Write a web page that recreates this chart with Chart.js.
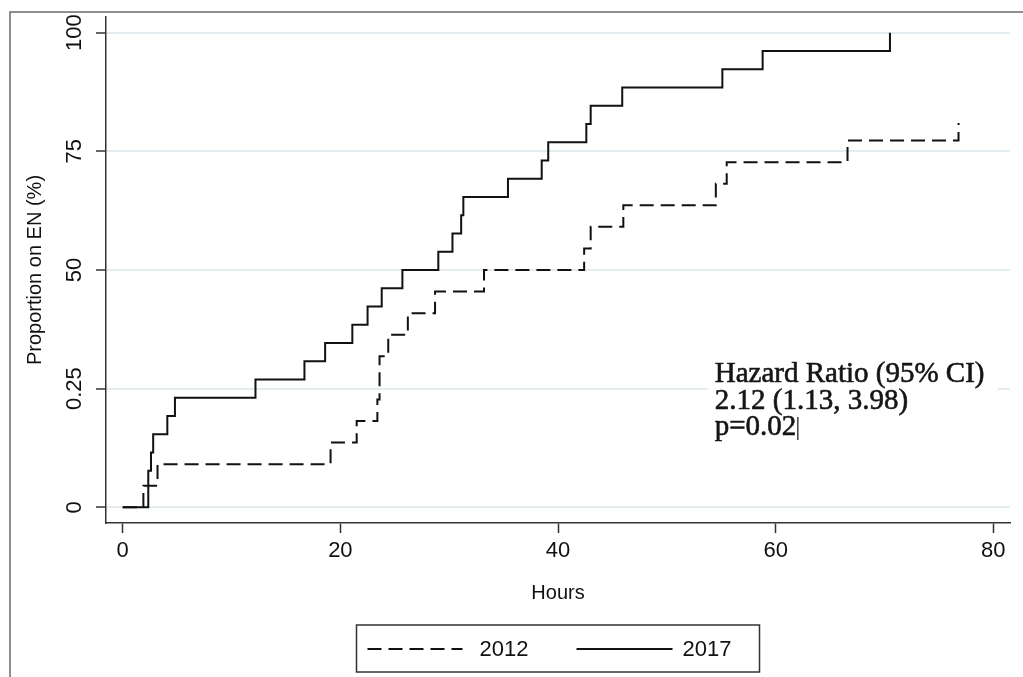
<!DOCTYPE html>
<html>
<head>
<meta charset="utf-8">
<script src="https://cdn.jsdelivr.net/npm/chart.js@4.4.1/dist/chart.umd.min.js"></script>
<style>
  html, body { margin: 0; padding: 0; background: #ffffff; }
  #wrap { position: relative; width: 1023px; height: 677px; }
</style>
</head>
<body>
<div id="wrap"><canvas id="c" width="1023" height="677"></canvas></div>
<script>
// ---- Data ----
const seriesLabels = ['2012', '2017'];
const hours2012 = [0, 1.9, 3.2, 19.1, 21.5, 23.4, 23.6, 24.4, 26.2, 28.7, 33.2, 42.4, 43.0, 46.0, 54.5, 55.5, 66.6, 76.8];
const pct2012   = [0, 4.55, 9.09, 13.64, 18.18, 22.73, 31.82, 36.36, 40.91, 45.45, 50.0, 54.55, 59.09, 63.64, 68.18, 72.73, 77.27, 81.0];
const hours2017 = [0, 2.35, 2.6, 2.8, 4.1, 4.8, 12.2, 16.7, 18.6, 21.1, 22.5, 23.8, 25.7, 29.0, 30.3, 31.1, 31.3, 35.4, 38.5, 39.1, 42.6, 43.0, 45.9, 55.1, 58.8, 70.5];
const pct2017   = [0, 7.69, 11.54, 15.38, 19.23, 23.08, 26.92, 30.77, 34.62, 38.46, 42.31, 46.15, 50.0, 53.85, 57.69, 61.54, 65.38, 69.23, 73.08, 76.92, 80.77, 84.62, 88.46, 92.31, 96.15, 100];
const xTicks = [0, 20, 40, 60, 80];
const yTicks = [0, 25, 50, 75, 100];
const yTickLabels = ['0', '0.25', '50', '75', '100'];
const xTitle = 'Hours';
const yTitle = 'Proportion on EN (%)';
const annotationLines = ['Hazard Ratio (95% CI)', '2.12 (1.13, 3.98)', 'p=0.02'];

const toXY = (xs, ys) => xs.map((x, i) => ({ x: x, y: ys[i] }));

const SANS = '"Liberation Sans", Arial, Helvetica, sans-serif';
const SERIF = '"Liberation Serif", "Times New Roman", serif';

const framePlugin = {
  id: 'frameAndExtras',
  afterDatasetsDraw(chart) {
    const ctx = chart.ctx;
    const xs = chart.scales.x, ys = chart.scales.y;
    // annotation block with white background
    const ax = xs.getPixelForValue(54.4);
    const ay = ys.getPixelForValue(26.4);
    ctx.save();
    ctx.fillStyle = '#ffffff';
    ctx.fillRect(ax - 7, ay - 27, 290, 92);
    ctx.fillStyle = '#151515';
    ctx.strokeStyle = '#151515';
    ctx.lineWidth = 0.6;
    ctx.font = '29px ' + SERIF;
    ctx.textBaseline = 'alphabetic';
    ctx.textAlign = 'left';
    annotationLines.forEach((t, i) => {
      ctx.fillText(t, ax, ay + i * 26.5);
      ctx.strokeText(t, ax, ay + i * 26.5);
    });
    const w = ctx.measureText(annotationLines[2]).width;
    ctx.lineWidth = 1.2;
    ctx.beginPath();
    ctx.moveTo(ax + w + 1.5, ay + 2 * 26.5 - 18);
    ctx.lineTo(ax + w + 1.5, ay + 2 * 26.5 + 5);
    ctx.stroke();
    ctx.restore();
  },
  afterDraw(chart) {
    const ctx = chart.ctx;
    const ca = chart.chartArea;
    ctx.save();
    // outer frame (top and left visible)
    ctx.strokeStyle = '#6a6a6a';
    ctx.lineWidth = 1.5;
    ctx.beginPath();
    ctx.moveTo(10, 677);
    ctx.lineTo(10, 12);
    ctx.lineTo(1023, 12);
    ctx.stroke();

    // legend box
    const cx = (ca.left + ca.right) / 2;
    const bw = 403, bh = 47;
    const bl = cx - bw / 2, bt = 625;
    ctx.strokeStyle = '#333333';
    ctx.lineWidth = 1.5;
    ctx.strokeRect(bl, bt, bw, bh);
    const ly = bt + 24;
    const items = [
      { ds: chart.data.datasets[0], x0: bl + 11, x1: bl + 106, tx: bl + 123 },
      { ds: chart.data.datasets[1], x0: bl + 220, x1: bl + 316, tx: bl + 326 }
    ];
    items.forEach(it => {
      ctx.strokeStyle = it.ds.borderColor;
      ctx.lineWidth = it.ds.borderWidth;
      ctx.setLineDash(it.ds.borderDash || []);
      ctx.beginPath();
      ctx.moveTo(it.x0, ly);
      ctx.lineTo(it.x1, ly);
      ctx.stroke();
      ctx.setLineDash([]);
      ctx.fillStyle = '#111111';
      ctx.font = '22px ' + SANS;
      ctx.textBaseline = 'middle';
      ctx.textAlign = 'left';
      ctx.fillText(it.ds.label, it.tx, ly + 1);
    });
    ctx.restore();
  }
};

new Chart(document.getElementById('c'), {
  type: 'line',
  data: {
    datasets: [
      {
        label: seriesLabels[0],
        data: toXY(hours2012, pct2012),
        stepped: true,
        borderColor: '#111111',
        borderWidth: 2,
        borderDash: [14, 7],
        pointRadius: 0,
        fill: false
      },
      {
        label: seriesLabels[1],
        data: toXY(hours2017, pct2017),
        stepped: true,
        borderColor: '#111111',
        borderWidth: 2,
        pointRadius: 0,
        fill: false
      }
    ]
  },
  options: {
    responsive: false,
    animation: false,
    devicePixelRatio: 1,
    layout: { padding: { left: 10, top: 17, right: 13, bottom: 0 } },
    plugins: {
      legend: { display: false },
      tooltip: { enabled: false }
    },
    scales: {
      x: {
        type: 'linear',
        min: -1.535,
        max: 81.53,
        afterBuildTicks: s => { s.ticks = xTicks.map(v => ({ value: v })); },
        afterFit: s => { s.height = 154; },
        grid: { display: true, drawOnChartArea: false, tickLength: 10, tickColor: '#333333', tickWidth: 1.5 },
        border: { display: true, color: '#333333', width: 1.5 },
        ticks: { color: '#111111', font: { family: SANS, size: 22 }, padding: 5, maxRotation: 0 },
        title: { display: true, text: xTitle, color: '#111111', font: { family: SANS, size: 20 }, padding: { top: 0, bottom: 72 } }
      },
      y: {
        type: 'linear',
        min: -3.31,
        max: 103.31,
        afterBuildTicks: s => { s.ticks = yTicks.map(v => ({ value: v })); },
        afterFit: s => { s.width = 96; },
        grid: { display: true, color: '#e3edf0', lineWidth: 2, tickLength: 10, tickColor: '#333333', tickWidth: 1.5 },
        border: { display: true, color: '#333333', width: 1.5 },
        ticks: {
          color: '#111111',
          font: { family: SANS, size: 22 },
          padding: 0,
          minRotation: 90,
          maxRotation: 90,
          crossAlign: 'center',
          callback: v => { const i = yTicks.indexOf(v); return i >= 0 ? yTickLabels[i] : ''; }
        },
        title: { display: true, text: yTitle, color: '#111111', font: { family: SANS, size: 20 }, padding: { top: 13, bottom: 0 } }
      }
    }
  },
  plugins: [framePlugin]
});
</script>
</body>
</html>
